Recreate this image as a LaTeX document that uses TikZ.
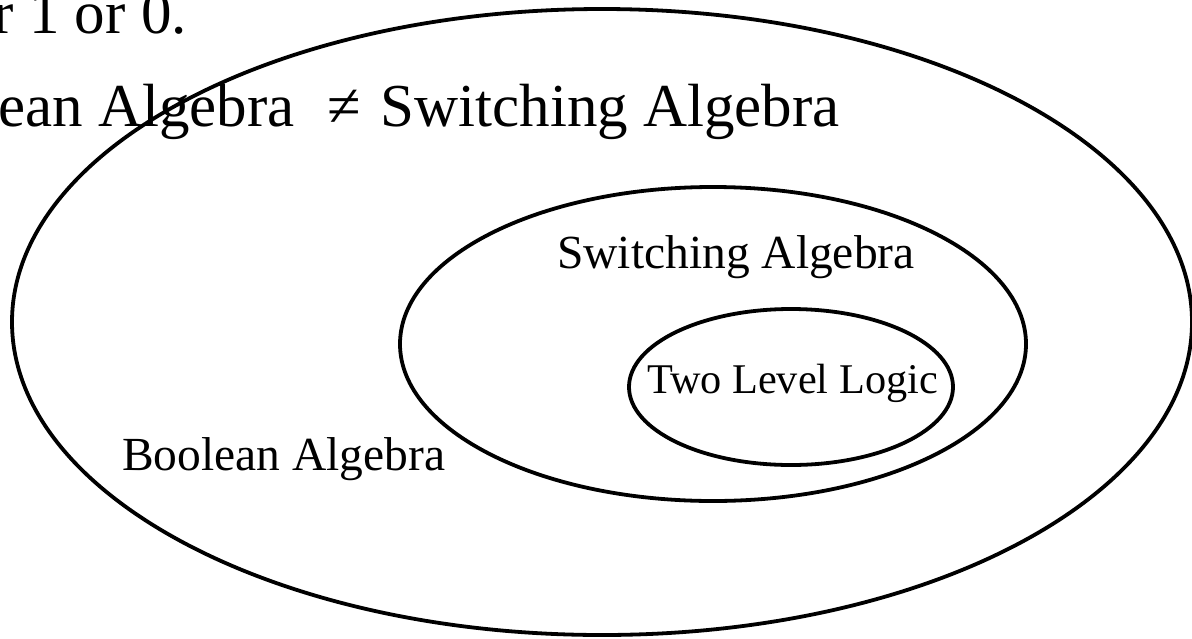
\documentclass[tikz,border=0pt]{standalone}
\usepackage{fontspec}
\setmainfont{Liberation Serif}
\begin{document}
\begin{tikzpicture}[x=1pt,y=-1pt,
  ring/.style={line width=3.8pt},
  bigtext/.style={font=\fontsize{61}{70}\selectfont, inner sep=0pt},
  midtext/.style={font=\fontsize{47.5}{56}\selectfont, inner sep=0pt},
  smalltext/.style={font=\fontsize{42.3}{50}\selectfont, inner sep=0pt}]
\useasboundingbox (0,0) rectangle (1192,638);
\draw[ring] (602,322) ellipse [x radius=590, y radius=313];
\draw[ring] (713,344) ellipse [x radius=313, y radius=157];
\draw[ring] (791,387) ellipse [x radius=162, y radius=78];
\node[bigtext, anchor=base east] (l1) at (187,33) {r 1 or 0.};
\node[bigtext, anchor=base east] (l2) at (840,126) {ean Algebra\hspace{18pt} ≠\hspace{4pt} Switching Algebra};
\node[midtext, anchor=base west] (sw) at (557,268) {Switching Algebra};
\node[midtext, anchor=base west] (bo) at (122,470) {Boolean Algebra};
\node[smalltext, anchor=base west] (tl) at (647,393) {Two Level Logic};
\end{tikzpicture}
\end{document}
